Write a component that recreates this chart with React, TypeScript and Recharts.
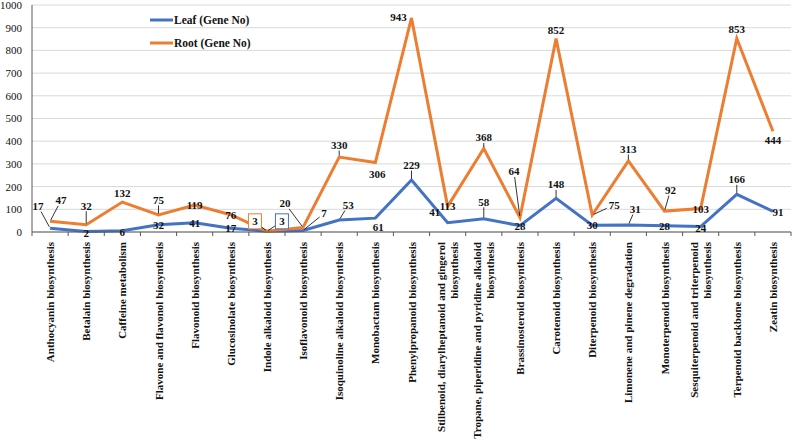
import React from "react";
import { LineChart, Line, XAxis, YAxis, CartesianGrid } from "recharts";

const categories = [
  "Anthocyanin biosynthesis",
  "Betalain biosynthesis",
  "Caffeine metabolism",
  "Flavone and flavonol biosynthesis",
  "Flavonoid biosynthesis",
  "Glucosinolate biosynthesis",
  "Indole alkaloid biosynthesis",
  "Isoflavonoid biosynthesis",
  "Isoquinoline alkaloid biosynthesis",
  "Monobactam biosynthesis",
  "Phenylpropanoid biosynthesis",
  "Stilbenoid, diarylheptanoid and gingerol biosynthesis",
  "Tropane, piperidine and pyridine alkaloid biosynthesis",
  "Brassinosteroid biosynthesis",
  "Carotenoid biosynthesis",
  "Diterpenoid biosynthesis",
  "Limonene and pinene degradation",
  "Monoterpenoid biosynthesis",
  "Sesquiterpenoid and triterpenoid biosynthesis",
  "Terpenoid backbone biosynthesis",
  "Zeatin biosynthesis",
];

const xTickLabels: string[][] = [
  ["Anthocyanin biosynthesis"],
  ["Betalain biosynthesis"],
  ["Caffeine metabolism"],
  ["Flavone and flavonol biosynthesis"],
  ["Flavonoid biosynthesis"],
  ["Glucosinolate biosynthesis"],
  ["Indole alkaloid biosynthesis"],
  ["Isoflavonoid biosynthesis"],
  ["Isoquinoline alkaloid biosynthesis"],
  ["Monobactam biosynthesis"],
  ["Phenylpropanoid biosynthesis"],
  ["Stilbenoid, diarylheptanoid and gingerol", "biosynthesis"],
  ["Tropane, piperidine and pyridine alkaloid", "biosynthesis"],
  ["Brassinosteroid biosynthesis"],
  ["Carotenoid biosynthesis"],
  ["Diterpenoid biosynthesis"],
  ["Limonene and pinene degradation"],
  ["Monoterpenoid biosynthesis"],
  ["Sesquiterpenoid and triterpenoid", "biosynthesis"],
  ["Terpenoid backbone biosynthesis"],
  ["Zeatin biosynthesis"],
];

const leafGenes = [17, 2, 6, 32, 41, 17, 3, 7, 53, 61, 229, 41, 58, 28, 148, 30, 31, 28, 24, 166, 91];
const rootGenes = [47, 32, 132, 75, 119, 76, 3, 20, 330, 306, 943, 113, 368, 64, 852, 75, 313, 92, 103, 853, 444];

const yTicks = [0, 100, 200, 300, 400, 500, 600, 700, 800, 900, 1000];

const seriesNames = ["Leaf (Gene No)", "Root (Gene No)"];

// label placement: [dx, dy, leader, boxed]
const leafLabelPlacement: number[][] = [
  [-12, -22, 1, 0], [0, 1, 0, 0], [0, 1, 0, 0], [0, 0, 0, 0], [0, 0, 0, 0],
  [0, 0, 0, 0], [15, -10, 1, 1], [21, -17, 1, 0], [9, -15, 1, 0], [3, 9, 0, 0],
  [0, -15, 1, 0], [-13, -11, 0, 0], [0, -17, 1, 0], [0, 0, 0, 0], [0, -14, 1, 0],
  [0, 0, 0, 0], [7, -16, 1, 0], [0, 0, 0, 0], [0, 1, 0, 0], [0, -15, 1, 0], [5, 1, 0, 0],
];
const rootLabelPlacement: number[][] = [
  [11, -21, 1, 0], [0, -19, 1, 0], [0, -9, 0, 0], [0, -15, 1, 0], [0, 0, 0, 0],
  [0, 0, 0, 0], [-12, -10, 1, 1], [-18, -24, 1, 0], [0, -12, 1, 0], [2, 11, 0, 0],
  [-13, -1, 0, 0], [0, 0, 0, 0], [0, -11, 1, 0], [-6, -46, 1, 0], [0, -9, 0, 0],
  [22, -10, 1, 0], [0, -12, 1, 0], [6, -21, 1, 0], [0, 0, 0, 0], [0, -9, 0, 0], [0, 9, 0, 0],
];

const data = categories.map((c, i) => ({ name: c, leaf: leafGenes[i], root: rootGenes[i] }));

const BLUE = "#4472C4";
const ORANGE = "#ED7D31";
const FONT = "'Liberation Serif', 'Times New Roman', serif";
const CHART_W = 793;
const CHART_H = 443;
const Y_W = 32;
const M_RIGHT = 2;
const BW = (CHART_W - Y_W - M_RIGHT) / categories.length;

function renderPointLabel(props: any, placement: number[][], color: string) {
  const { x, y, value, index } = props;
  if (x == null || y == null) return null;
  const [dx, dy, leader, boxed] = placement[index] || [0, 0, 0, 0];
  const tx = x + dx;
  const ty = y + dy;
  const text = String(value);
  const hw = boxed ? 7 : text.length * 3 + 1.5;
  const hh = boxed ? 8 : 5.5;
  let line = null;
  if (leader) {
    const vx = tx - x;
    const vy = ty - y;
    const len = Math.sqrt(vx * vx + vy * vy) || 1;
    const sx = vx !== 0 ? hw / Math.abs(vx) : Infinity;
    const sy = vy !== 0 ? hh / Math.abs(vy) : Infinity;
    const s = Math.min(sx, sy, 1);
    const ex = tx - vx * s;
    const ey = ty - vy * s;
    const k = 1.5 / len;
    line = (
      <line x1={x + vx * k} y1={y + vy * k} x2={ex} y2={ey} stroke="#000" strokeWidth={0.8} />
    );
  }
  return (
    <g key={`lbl-${color}-${index}`}>
      {line}
      {boxed ? (
        <rect x={tx - 6.5} y={ty - 7.5} width={13} height={15} fill="#fff" stroke={color} strokeWidth={1} />
      ) : null}
      <text
        x={tx}
        y={ty}
        textAnchor="middle"
        dominantBaseline="central"
        fontFamily={FONT}
        fontWeight="bold"
        fontSize={11}
        fill="#111"
      >
        {text}
      </text>
    </g>
  );
}

const XTick = (props: any) => {
  const { x, y, payload } = props;
  const idx = categories.indexOf(payload.value);
  const lines = xTickLabels[idx] || [String(payload.value)];
  const n = lines.length;
  const isLast = idx === categories.length - 1;
  return (
    <g>
      <line x1={x - BW / 2} y1={y} x2={x - BW / 2} y2={y + 4} stroke="#595959" strokeWidth={1} />
      {isLast ? <line x1={x + BW / 2} y1={y} x2={x + BW / 2} y2={y + 4} stroke="#595959" strokeWidth={1} /> : null}
      <text
        transform={`translate(${x},${y + 10}) rotate(-90)`}
        textAnchor="end"
        fontFamily={FONT}
        fontWeight="bold"
        fontSize={11}
        fill="#111"
      >
        {lines.map((l, i) => (
          <tspan key={i} x={0} y={(i - (n - 1) / 2) * 13} dominantBaseline="central">
            {l}
          </tspan>
        ))}
      </text>
    </g>
  );
};

const seriesColors = [BLUE, ORANGE];

export default function App() {
  return (
    <div style={{ position: "absolute", left: 0, top: 0, width: CHART_W, height: CHART_H, background: "#fff" }}>
      <LineChart
        width={CHART_W}
        height={CHART_H}
        data={data}
        margin={{ top: 5, right: M_RIGHT, left: 0, bottom: 0 }}
      >
        <CartesianGrid vertical={false} stroke="#d9d9d9" strokeWidth={1} />
        <XAxis
          dataKey="name"
          interval={0}
          height={CHART_H - 232}
          padding={{ left: BW / 2, right: BW / 2 }}
          tick={<XTick />}
          tickLine={false}
          tickSize={0}
          tickMargin={0}
          axisLine={{ stroke: "#595959", strokeWidth: 1 }}
        />
        <YAxis
          width={Y_W}
          domain={[0, 1000]}
          ticks={yTicks}
          interval={0}
          tickLine={false}
          tickSize={0}
          tickMargin={10}
          axisLine={{ stroke: "#595959", strokeWidth: 1 }}
          tick={{ fontFamily: FONT, fontSize: 11, fill: "#111" }}
        />
        <Line
          type="linear"
          dataKey="leaf"
          name={seriesNames[0]}
          stroke={BLUE}
          strokeWidth={3}
          dot={false}
          isAnimationActive={false}
          label={(p: any) => renderPointLabel(p, leafLabelPlacement, BLUE)}
        />
        <Line
          type="linear"
          dataKey="root"
          name={seriesNames[1]}
          stroke={ORANGE}
          strokeWidth={3}
          dot={false}
          isAnimationActive={false}
          label={(p: any) => renderPointLabel(p, rootLabelPlacement, ORANGE)}
        />
      </LineChart>
      <div
        style={{
          position: "absolute",
          left: 150,
          top: 8,
          fontFamily: FONT,
          fontWeight: "bold",
          fontSize: 11.5,
          color: "#111",
        }}
      >
        {seriesNames.map((label, i) => (
          <div key={label} style={{ display: "flex", alignItems: "center", height: 23 }}>
            <svg width={23} height={4} style={{ marginRight: 1 }}>
              <line x1={0} y1={2} x2={23} y2={2} stroke={seriesColors[i]} strokeWidth={3} />
            </svg>
            <span>{label}</span>
          </div>
        ))}
      </div>
    </div>
  );
}
